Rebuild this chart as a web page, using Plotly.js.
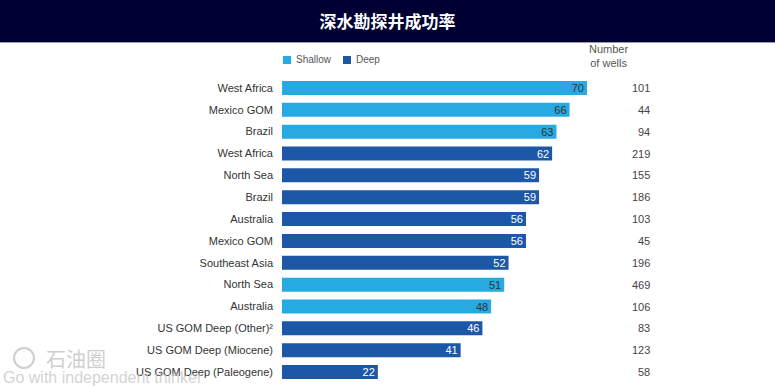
<!DOCTYPE html>
<html><head><meta charset="utf-8">
<script src="https://cdn.plot.ly/plotly-3.0.1.min.js"></script>
<style>html,body{margin:0;padding:0;background:#fff;}#chart{width:775px;height:388px;}</style>
</head><body><div id="chart"></div>
<script>
var regions = ["West Africa","Mexico GOM","Brazil","West Africa","North Sea","Brazil","Australia","Mexico GOM","Southeast Asia","North Sea","Australia","US GOM Deep (Other)²","US GOM Deep (Miocene)","US GOM Deep (Paleogene)"];
var types = ["Shallow","Shallow","Shallow","Deep","Deep","Deep","Deep","Deep","Deep","Shallow","Shallow","Deep","Deep","Deep"];
var successRate = [70,66,63,62,59,59,56,56,52,51,48,46,41,22];
var wells = [101,44,94,219,155,186,103,45,196,469,106,83,123,58];
var seriesNames = ["Shallow","Deep"];
var seriesColors = ["#27a9e1","#1d58a7"];

var rows = regions.map(function(_, i){ return i; });
function pick(t){
  var x=[], y=[];
  rows.forEach(function(i){ if(types[i]===t){ x.push(successRate[i]); y.push(i); } });
  return {x:x, y:y};
}
var font = "Liberation Sans, Arial, sans-serif";
var textColors = ["#333333","#ffffff"];
var traces = seriesNames.map(function(n, k){
  var d = pick(n);
  return {type:"bar", orientation:"h", name:n, x:d.x, y:d.y, width:0.64,
   marker:{color:seriesColors[k]}, text:d.x.map(String), textposition:"inside", insidetextanchor:"end",
   constraintext:"none", textangle:0,
   textfont:{color:textColors[k], size:11, family:font}, hoverinfo:"x+name", showlegend:false};
});

var L=282, R=144, T=77, B=5, W=775-L-R, H=388-T-B;
function px2x(p){ return (p-L)/W; }
function py2y(p){ return 1-(p-T)/H; }

var annotations = rows.map(function(i){
  return {xref:"paper", yref:"y", x:px2x(652), y:i, xanchor:"right", yanchor:"middle",
          text:String(wells[i]), showarrow:false, font:{size:11, color:"#444444", family:font}};
});
annotations.push({xref:"paper", yref:"paper", x:px2x(608), y:py2y(56), xanchor:"center", yanchor:"middle",
  text:"Number<br>of wells", showarrow:false, align:"center", font:{size:11, color:"#555555", family:font}});
// custom legend
var legX = [283, 343];
var shapes = [
  {type:"rect", xref:"paper", yref:"paper", x0:px2x(0), x1:px2x(775), y0:py2y(42), y1:py2y(0),
   fillcolor:"#000033", line:{width:0}, layer:"below"},
  {type:"line", xref:"paper", yref:"paper", x0:px2x(0), x1:px2x(775), y0:py2y(42.5), y1:py2y(42.5),
   line:{color:"#9a9aa8", width:1}},
  {type:"circle", xref:"paper", yref:"paper", x0:px2x(14), x1:px2x(34), y0:py2y(368), y1:py2y(348),
   line:{color:"rgba(190,190,190,0.75)", width:2}}
];
seriesNames.forEach(function(n, k){
  shapes.push({type:"rect", xref:"paper", yref:"paper", x0:px2x(legX[k]), x1:px2x(legX[k]+8),
    y0:py2y(64), y1:py2y(56), fillcolor:seriesColors[k], line:{width:0}});
  annotations.push({xref:"paper", yref:"paper", x:px2x(legX[k]+11), y:py2y(60), xanchor:"left", yanchor:"middle",
    text:n, showarrow:false, font:{size:10, color:"#555555", family:font}});
});
// watermark
annotations.push({xref:"paper", yref:"paper", x:px2x(44), y:py2y(358), xanchor:"left", yanchor:"middle",
  text:"石油圈", showarrow:false, font:{size:20, color:"rgba(190,190,190,0.75)", family:"Noto Sans CJK SC"}});
annotations.push({xref:"paper", yref:"paper", x:px2x(1), y:py2y(377), xanchor:"left", yanchor:"middle",
  text:"Go with independent thinker", showarrow:false, font:{size:16, color:"rgba(190,190,190,0.7)", family:font}});

var layout = {
  width:775, height:388,
  margin:{l:L, r:R, t:T, b:B, pad:0},
  paper_bgcolor:"#ffffff", plot_bgcolor:"#ffffff",
  title:{text:"<b>深水勘探井成功率</b>", font:{size:17, color:"#ffffff", family:"Noto Sans CJK SC"},
         x:0.5, xanchor:"center", xref:"container", y:1-22/388, yref:"container", yanchor:"middle"},
  barmode:"overlay",
  showlegend:false,
  xaxis:{range:[0, W/4.357], visible:false, fixedrange:true},
  yaxis:{range:[13.5,-0.5], tickmode:"array", tickvals:rows, ticktext:regions, showgrid:false,
         zeroline:false, showline:false, ticks:"", ticklabelstandoff:8,
         tickfont:{size:11, color:"#333333", family:font}, fixedrange:true},
  annotations:annotations, shapes:shapes
};
Plotly.newPlot("chart", traces, layout, {displayModeBar:false, staticPlot:true});
</script></body></html>
